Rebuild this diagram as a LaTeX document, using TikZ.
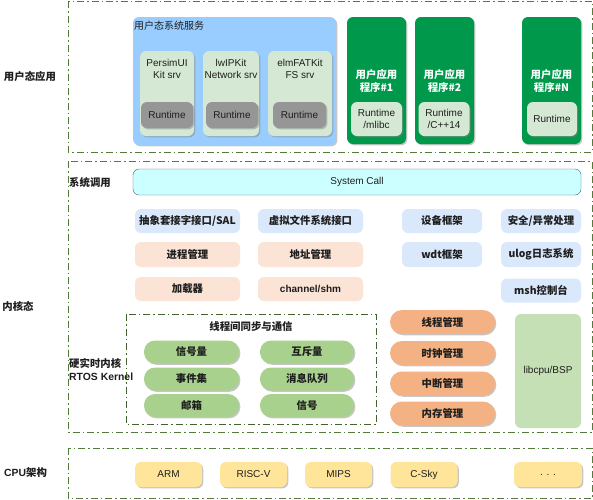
\documentclass[tikz,border=0pt]{standalone}
\usepackage{fontspec}
\setmainfont{Liberation Sans}
\newfontfamily\cjk{Noto Sans CJK SC}
\usetikzlibrary{shadows}

\definecolor{layerline}{RGB}{84,122,60}
\definecolor{svcblue}{RGB}{153,204,255}
\definecolor{srvgreen}{RGB}{213,232,212}
\definecolor{rtgrey}{RGB}{150,150,150}
\definecolor{appgreen}{RGB}{0,153,76}
\definecolor{callcyan}{RGB}{204,255,255}
\definecolor{callline}{RGB}{58,96,128}
\definecolor{ifblue}{RGB}{218,232,252}
\definecolor{peach}{RGB}{251,228,213}
\definecolor{ipcgreen}{RGB}{169,209,142}
\definecolor{coreorange}{RGB}{244,177,131}
\definecolor{bspgreen}{RGB}{197,224,180}
\definecolor{archyellow}{RGB}{255,229,153}
\definecolor{txt}{RGB}{30,30,30}

\tikzset{
  layer/.style={draw=layerline, line width=0.9pt, dash pattern=on 7pt off 3pt on 1.5pt off 3pt},
  shd/.style={drop shadow={shadow xshift=1.3pt, shadow yshift=-1.3pt, fill=black!50, opacity=0.45}},
  blk/.style={rounded corners=6pt, inner sep=0pt, align=center, text=txt,
    font=\fontsize{10}{11.5}\selectfont},
  zh/.style={font=\cjk\bfseries\fontsize{10.4}{12.5}\selectfont},
  svcbox/.style={blk, shd, fill=svcblue},
  srvbox/.style={blk, shd, fill=srvgreen, minimum height=85pt},
  rtbox/.style={blk, shd, fill=rtgrey, minimum width=52pt, minimum height=26pt},
  appbox/.style={blk, shd, fill=appgreen, minimum width=59pt, minimum height=127pt},
  apprt/.style={blk, shd, fill=srvgreen, minimum width=51pt, minimum height=34pt},
  ifbox/.style={blk, zh, fill=ifblue},
  pcbox/.style={blk, zh, fill=peach},
  ipcpill/.style={blk, zh, shd, fill=ipcgreen, rounded corners=11pt, minimum height=23pt},
  corepill/.style={blk, zh, shd, fill=coreorange, rounded corners=12pt,
    minimum width=105pt, minimum height=24pt},
  archbox/.style={blk, shd, fill=archyellow, minimum width=67pt, minimum height=25pt},
  tag/.style={inner sep=0pt, text=txt, zh, align=left}
}

\begin{document}
\begin{tikzpicture}[x=1pt, y=-1pt]
  \useasboundingbox (0,0) rectangle (593,499);

  % layers
  \draw[layer] (68,1) rectangle (592,152);
  \draw[layer] (68,161) rectangle (592,432);
  \draw[layer] (68,448) rectangle (592,498);
  \node[tag] (lbluser) at (30,77) {用户态应用};
  \node[tag] (lblkern) at (18,306) {内核态};
  \node[tag, anchor=west] (lblcpu) at (4,473) {\fontspec{Liberation Sans Bold}CPU\cjk 架构};

  % user space services
  \node[svcbox, minimum width=203pt, minimum height=128pt] (usvc) at (234.5,81) {};
  \node[tag, anchor=north west, font=\cjk\fontsize{10}{12}\selectfont] (usvct) at (134,21) {用户态系统服务};
  \node[srvbox, minimum width=54pt] (persim) at (167,93.5) {};
  \node[blk] (persimt) at (167,69) {PersimUI\\Kit srv};
  \node[rtbox] (persimrt) at (167,115) {Runtime};
  \node[srvbox, minimum width=56pt] (lwip) at (231,93.5) {};
  \node[blk] (lwipt) at (231,69) {lwIPKit\\Network srv};
  \node[rtbox] (lwiprt) at (232,115) {Runtime};
  \node[srvbox, minimum width=64pt] (elmfat) at (300,93.5) {};
  \node[blk] (elmfatt) at (300,69) {elmFATKit\\FS srv};
  \node[rtbox, minimum width=53pt] (elmfatrt) at (299.5,115) {Runtime};

  % user apps
  \node[appbox] (app1) at (376.5,80.5) {};
  \node[tag, text=white, align=center] (app1t) at (376.5,81) {用户应用\\程序\#1};
  \node[apprt] (app1rt) at (376.5,119) {Runtime\\/mlibc};
  \node[appbox] (app2) at (444.5,80.5) {};
  \node[tag, text=white, align=center] (app2t) at (444.5,81) {用户应用\\程序\#2};
  \node[apprt] (app2rt) at (444,119) {Runtime\\/C++14};
  \node[appbox] (appn) at (551.5,80.5) {};
  \node[tag, text=white, align=center] (appnt) at (551.5,81) {用户应用\\程序\#N};
  \node[apprt, minimum width=50pt] (appnrt) at (552,119) {Runtime};

  % system call
  \node[tag, anchor=west] (lblcall) at (69,183) {系统调用};
  \node[blk, draw=callline, fill=callcyan, minimum width=448pt, minimum height=26pt] (syscall) at (357,182) {System Call};

  % kernel components
  \node[ifbox, minimum width=105pt, minimum height=24pt] (sal) at (187.5,221) {抽象套接字接口/SAL};
  \node[ifbox, minimum width=105pt, minimum height=24pt] (vfs) at (310.5,221) {虚拟文件系统接口};
  \node[ifbox, minimum width=80pt, minimum height=24pt] (dev) at (442,221) {设备框架};
  \node[ifbox, minimum width=80pt, minimum height=24pt] (sec) at (541,221) {安全/异常处理};
  \node[pcbox, minimum width=105pt, minimum height=25pt] (proc) at (187.5,254.5) {进程管理};
  \node[pcbox, minimum width=105pt, minimum height=25pt] (addr) at (310.5,254.5) {地址管理};
  \node[ifbox, minimum width=80pt, minimum height=25pt] (wdt) at (442,254.5) {wdt框架};
  \node[ifbox, minimum width=80pt, minimum height=25pt] (ulog) at (541,254.5) {ulog日志系统};
  \node[pcbox, minimum width=105pt, minimum height=24pt] (loader) at (187.5,289) {加载器};
  \node[pcbox, minimum width=105pt, minimum height=24pt, font=\fontspec{Liberation Sans Bold}\fontsize{10}{11.5}\selectfont] (chan) at (310.5,289) {channel/shm};
  \node[ifbox, minimum width=80pt, minimum height=24pt] (msh) at (541,290.5) {msh控制台};

  % rtos kernel
  \node[tag, anchor=west] (lblrtos) at (69,369.5) {硬实时内核\\{\fontspec{Liberation Sans Bold}RTOS Kernel}};
  \draw[layer, draw=layerline!80!black, line width=0.7pt] (126,314) rectangle (376,424);
  \node[tag] (ipct) at (251,327) {线程间同步与通信};
  \node[ipcpill, minimum width=95pt] (sem) at (191.5,352) {信号量};
  \node[ipcpill, minimum width=95pt] (event) at (191.5,379) {事件集};
  \node[ipcpill, minimum width=95pt] (mbox) at (191.5,405.5) {邮箱};
  \node[ipcpill, minimum width=94pt] (mutex) at (307,352) {互斥量};
  \node[ipcpill, minimum width=94pt] (mq) at (307,379) {消息队列};
  \node[ipcpill, minimum width=94pt] (sig) at (307,405.5) {信号};
  \node[corepill] (thread) at (442.5,322) {线程管理};
  \node[corepill] (clock) at (442.5,353) {时钟管理};
  \node[corepill] (irq) at (442.5,383.5) {中断管理};
  \node[corepill] (mem) at (442.5,413.5) {内存管理};
  \node[blk, fill=bspgreen, minimum width=66pt, minimum height=114pt] (bsp) at (548,371) {libcpu/BSP};

  % cpu architectures
  \node[archbox] (arm) at (168.5,474.5) {ARM};
  \node[archbox] (riscv) at (253.5,474.5) {RISC-V};
  \node[archbox] (mips) at (338.5,474.5) {MIPS};
  \node[archbox] (csky) at (424,474.5) {C-Sky};
  \node[archbox, minimum width=68pt] (more) at (548,474.5) {. . .};
\end{tikzpicture}
\end{document}
